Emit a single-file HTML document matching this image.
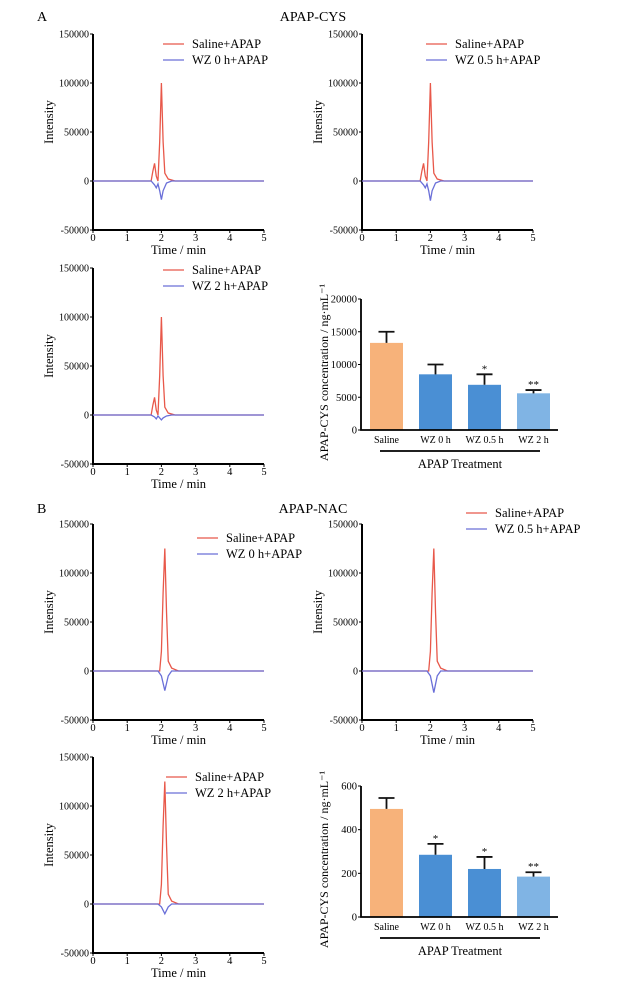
<!DOCTYPE html>
<html><head><meta charset="utf-8"><style>
html,body{margin:0;padding:0;background:#fff}
svg{display:block;font-family:"Liberation Serif",serif}
</style></head><body>
<svg id="fig" width="624" height="986" viewBox="0 0 624 986">
<text x="37" y="21" font-size="14">A</text>
<text x="313" y="21" font-size="14" text-anchor="middle">APAP-CYS</text>
<text x="37" y="513" font-size="14">B</text>
<text x="313" y="513" font-size="14" text-anchor="middle">APAP-NAC</text>
</svg>
<script>
// ---- chromatogram data ----
const timeTicks = [0,1,2,3,4,5];
const intensityTicks = [150000,100000,50000,0,-50000];
const tRedA = [0,1.7,1.75,1.8,1.85,1.9,1.95,2.0,2.05,2.1,2.2,2.4,5];
const yRedA = [0,0,10000,18000,5000,0,40000,100000,40000,8000,2000,0,0];
const tBlueA = [0,1.7,1.8,1.85,1.9,1.95,2.0,2.05,2.15,2.3,5];
const yBlueA1 = [0,0,-4000,-7000,-3000,-10000,-19000,-10000,-2000,0,0];
const yBlueA2 = [0,0,-4000,-7000,-3000,-10000,-20000,-10000,-2000,0,0];
const yBlueA3 = [0,0,-2000,-4000,-1000,-3000,-5000,-3000,-1000,0,0];
const tRedB = [0,1.95,2.0,2.05,2.1,2.15,2.2,2.3,2.5,5];
const yRedB = [0,0,20000,80000,125000,60000,10000,3000,0,0];
const tBlueB = [0,1.9,2.0,2.1,2.2,2.3,5];
const yBlueB1 = [0,0,-5000,-20000,-5000,0,0];
const yBlueB2 = [0,0,-5000,-22000,-5000,0,0];
const yBlueB3 = [0,0,-3000,-10000,-3000,0,0];
const legendNames = ["WZ 0 h+APAP","WZ 0.5 h+APAP","WZ 2 h+APAP"];
// ---- bar data ----
const barCats = ["Saline","WZ 0 h","WZ 0.5 h","WZ 2 h"];
const barA = [13300,8500,6900,5600];
const errA = [1700,1500,1600,500];
const starsA = ["","","*","**"];
const ticksA = [0,5000,10000,15000,20000];
const barB = [495,285,220,185];
const errB = [50,50,55,20];
const starsB = ["","*","*","**"];
const ticksB = [0,200,400,600];

const svg = document.getElementById('fig');
const NS = 'http://www.w3.org/2000/svg';
function mk(tag, attrs, parent){const e=document.createElementNS(NS,tag);for(const k in attrs)e.setAttribute(k,attrs[k]);(parent||svg).appendChild(e);return e;}

function chrom(name, x0, yTop, tR, yR, tB, yB, legend, lx, ly){
  const g = mk('g',{});
  
  
  const x1 = x0+171, yBot = yTop+196;
  const sx = t => x0 + t/5*(x1-x0);
  const sy = v => yTop + (150000-v)/200000*(yBot-yTop);
  const ax = mk('path',{d:`M${x0},${yTop} V${yBot} H${x1}`,stroke:'#000','stroke-width':2,fill:'none'},g);
  
  
  intensityTicks.forEach(v=>{
    mk('line',{x1:x0-3,x2:x0,y1:sy(v),y2:sy(v),stroke:'#000'},g);
    const t = mk('text',{x:x0-4,y:sy(v)+3.5,'font-size':10,'text-anchor':'end'},g);
    t.textContent = v;  
  });
  timeTicks.forEach(v=>{
    mk('line',{x1:sx(v),x2:sx(v),y1:yBot,y2:yBot+3,stroke:'#000'},g);
    const t = mk('text',{x:sx(v),y:yBot+11,'font-size':10.5,'text-anchor':'middle'},g);
    t.textContent = v;  
  });
  const xt = mk('text',{x:(x0+x1)/2,y:yBot+24,'font-size':12.5,'text-anchor':'middle'},g);
  xt.textContent='Time / min';  
  const cy=(yTop+yBot)/2-10;
  const yt = mk('text',{x:0,y:0,'font-size':12.5,'text-anchor':'middle',transform:`translate(${x0-40},${cy}) rotate(-90)`},g);
  yt.textContent='Intensity';  
  const pr = mk('polyline',{points:tR.map((t,i)=>sx(t)+','+sy(yR[i])).join(' '),fill:'none',stroke:'#e8584a','stroke-width':1.3},g);
   
  const pb = mk('polyline',{points:tB.map((t,i)=>sx(t)+','+sy(yB[i])).join(' '),fill:'none',stroke:'#6a6fd8','stroke-width':1.3},g);
   
  [[ 'Saline+APAP','#e8584a'],[legend,'#6a6fd8']].forEach((e,i)=>{
    const le = mk('g',{},g);
     
    mk('line',{x1:lx,x2:lx+21,y1:ly+i*16-4,y2:ly+i*16-4,stroke:e[1],'stroke-width':1.2},le);
    const t=mk('text',{x:lx+29,y:ly+i*16,'font-size':12.5},le); t.textContent=e[0];
  });
}
chrom('chromatogram-a-0h',93,34,tRedA,yRedA,tBlueA,yBlueA1,legendNames[0],163,48);
chrom('chromatogram-a-05h',362,34,tRedA,yRedA,tBlueA,yBlueA2,legendNames[1],426,48);
chrom('chromatogram-a-2h',93,268,tRedA,yRedA,tBlueA,yBlueA3,legendNames[2],163,274);
chrom('chromatogram-b-0h',93,524,tRedB,yRedB,tBlueB,yBlueB1,legendNames[0],197,542);
chrom('chromatogram-b-05h',362,524,tRedB,yRedB,tBlueB,yBlueB2,legendNames[1],466,517);
chrom('chromatogram-b-2h',93,757,tRedB,yRedB,tBlueB,yBlueB3,legendNames[2],166,781);

function bars(name, yTop, yBot, vals, errs, stars, ticks){
  const g = mk('g',{});
  
  
  const x0=361, x1=558, maxV=ticks[ticks.length-1];
  const sy = v => yBot - v/maxV*(yBot-yTop);
  const colors=['#f7b27a','#4a8fd4','#4a8fd4','#80b4e4'];
  vals.forEach((v,i)=>{
    const cx = 386.5 + i*49;
    const b = mk('rect',{x:cx-16.5,y:sy(v),width:33,height:yBot-sy(v),fill:colors[i]},g);
     
    const eb = mk('path',{d:`M${cx},${sy(v)} V${sy(v+errs[i])} M${cx-8},${sy(v+errs[i])} H${cx+8}`,stroke:'#111','stroke-width':1.8,fill:'none'},g);
     
    if(stars[i]){const s=mk('text',{x:cx,y:sy(v+errs[i])-2,'font-size':11,'text-anchor':'middle'},g);s.textContent=stars[i];}
    const t=mk('text',{x:cx,y:yBot+13,'font-size':10,'text-anchor':'middle'},g); t.textContent=barCats[i];
     
  });
  const ax = mk('path',{d:`M${x0},${yTop} V${yBot} H${x1}`,stroke:'#000','stroke-width':1.8,fill:'none'},g);
   
  ticks.forEach(v=>{
    mk('line',{x1:x0-3,x2:x0,y1:sy(v),y2:sy(v),stroke:'#000'},g);
    const t=mk('text',{x:x0-4,y:sy(v)+3.5,'font-size':10.5,'text-anchor':'end'},g); t.textContent=v;
     
  });
  const l = mk('line',{x1:380,x2:540,y1:yBot+21,y2:yBot+21,stroke:'#000','stroke-width':1.8},g);
   
  const tt=mk('text',{x:460,y:yBot+38,'font-size':12.5,'text-anchor':'middle'},g); tt.textContent='APAP Treatment';
   
  const yt=mk('text',{x:0,y:0,'font-size':12,'text-anchor':'middle',transform:`translate(${328},${(yTop+yBot)/2+8}) rotate(-90)`},g);
  yt.textContent='APAP-CYS concentration / ng·mL⁻¹';  
}
bars('bar-chart-a',299,430,barA,errA,starsA,ticksA);
bars('bar-chart-b',786,917,barB,errB,starsB,ticksB);
</script>
</body></html>
